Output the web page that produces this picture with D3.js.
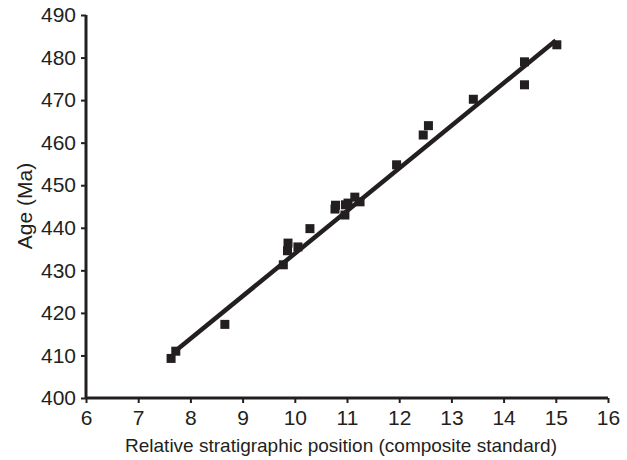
<!DOCTYPE html>
<html lang="en">
<head>
    <meta charset="UTF-8">
    <title>Age vs stratigraphic position</title>
    <script src="https://d3js.org/d3.v7.min.js"></script>
    <style>
        body { margin: 0; background: #fff; }
        text { font-family: "Liberation Sans", Arial, sans-serif; fill: #231f20; }
    </style>
</head>
<body>
<script>
    // composite standard position vs age (Ma)
    var positions = [7.63, 7.72, 8.66, 9.78, 9.86, 9.87, 10.06, 10.29, 10.77, 10.78, 10.96, 10.97, 11.02, 11.15, 11.25, 11.95, 12.46, 12.56, 13.42, 14.4, 14.4, 15.02];
    var ages      = [409.3, 411.0, 417.3, 431.3, 434.6, 436.4, 435.5, 439.8, 444.4, 445.3, 443.0, 445.4, 445.8, 447.2, 446.1, 454.8, 461.8, 464.0, 470.2, 479.0, 473.6, 483.0];
    // regression line end points
    var fitX = [7.7, 15.0];
    var fitY = [410.9, 484.0];

    var xTicks = [6, 7, 8, 9, 10, 11, 12, 13, 14, 15, 16];
    var yTicks = [400, 410, 420, 430, 440, 450, 460, 470, 480, 490];

    var width = 627, height = 460;
    var ink = "#231f20";

    var svg = d3.select("body").append("svg")
        .attr("width", width)
        .attr("height", height);

    var x = d3.scaleLinear().domain([6, 16]).range([86, 608]);
    var y = d3.scaleLinear().domain([400, 490]).range([398, 15]);

    // axes
    var xAxis = svg.append("g")
        .attr("transform", "translate(0," + y(400) + ")")
        .call(d3.axisBottom(x).tickValues(xTicks).tickSize(5).tickPadding(7).tickFormat(d3.format("d")));
    var yAxis = svg.append("g")
        .attr("transform", "translate(" + x(6) + ",0)")
        .call(d3.axisLeft(y).tickValues(yTicks).tickSize(5).tickPadding(5).tickFormat(d3.format("d")));

    [xAxis, yAxis].forEach(function(a) {
        a.select(".domain").attr("stroke", ink).attr("stroke-width", 3);
        a.selectAll(".tick line").attr("stroke", ink).attr("stroke-width", 2);
        a.selectAll(".tick text").attr("fill", ink).style("font-size", "21px")
            .style("font-family", "'Liberation Sans', Arial, sans-serif");
    });
    // redraw domain lines without end caps
    xAxis.select(".domain").attr("d", "M" + x(6) + ",0H" + x(16));
    yAxis.select(".domain").attr("d", "M0," + y(400) + "V" + y(490));

    // regression line
    var line = d3.line().x(d => x(d[0])).y(d => y(d[1]));
    svg.append("path")
        .datum(d3.zip(fitX, fitY))
        .attr("d", line)
        .attr("fill", "none")
        .attr("stroke", ink)
        .attr("stroke-width", 4.5);

    // data points
    var s = 9;
    svg.append("g")
        .selectAll("rect")
        .data(d3.zip(positions, ages))
        .enter().append("rect")
        .attr("x", d => x(d[0]) - s / 2)
        .attr("y", d => y(d[1]) - s / 2)
        .attr("width", s)
        .attr("height", s)
        .attr("fill", ink);

    // axis titles
    svg.append("text")
        .attr("x", (x(6) + x(16)) / 2 - 6)
        .attr("y", 452)
        .attr("text-anchor", "middle")
        .style("font-size", "19px")
        .text("Relative stratigraphic position (composite standard)");

    svg.append("text")
        .attr("transform", "translate(32,206) rotate(-90)")
        .attr("text-anchor", "middle")
        .style("font-size", "21px")
        .text("Age (Ma)");
</script>
</body>
</html>
